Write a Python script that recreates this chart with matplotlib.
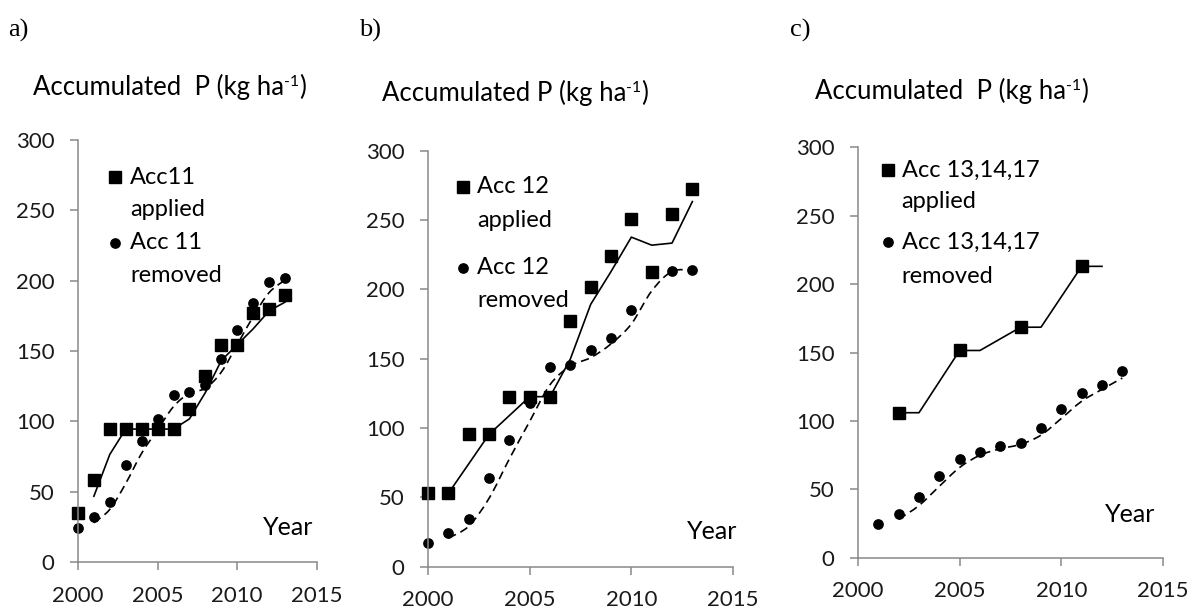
import matplotlib
matplotlib.use("Agg")
import matplotlib.pyplot as plt
from matplotlib.path import Path
from matplotlib.patches import PathPatch

plt.rcParams['font.family'] = ['Lato', 'DejaVu Sans']

# a) Acc 11
years_a = [2000, 2001, 2002, 2003, 2004, 2005, 2006, 2007, 2008, 2009, 2010, 2011, 2012, 2013]
applied_a = [35, 58.5, 94.5, 94.5, 94.5, 94.5, 94.5, 109, 132, 154.5, 154.5, 177, 180, 189.5]
removed_a = [24, 31.8, 43, 68.7, 86, 102, 119, 121, 126, 144, 165, 184, 199, 202]

# b) Acc 12
years_b = [2000, 2001, 2002, 2003, 2004, 2005, 2006, 2007, 2008, 2009, 2010, 2011, 2012, 2013]
applied_b = [52.9, 52.9, 95.4, 95.4, 122.6, 122.6, 122.6, 177, 201.4, 224.3, 251, 212.7, 254, 272.6]
removed_b = [17.3, 24, 34.4, 64.2, 91.3, 118.3, 144.2, 145.2, 156.3, 165.1, 185, 212.7, 213.2, 214]

# c) Acc 13,14,17
years_c_applied = [2002, 2005, 2008, 2011]
applied_c = [106, 151.5, 168.5, 213]
trend_years_c = [2002, 2003, 2005, 2006, 2008, 2009, 2011, 2012]
trend_applied_c = [106, 106, 151.5, 151.5, 168.5, 168.5, 213, 213]
years_c = [2001, 2002, 2003, 2004, 2005, 2006, 2007, 2008, 2009, 2010, 2011, 2012, 2013]
removed_c = [24.6, 31.7, 44.6, 59.8, 72.2, 77.6, 81.7, 84.1, 95.1, 108.5, 120.2, 125.9, 136.8]

GRAY = '#898989'
W, H = 1190, 610


def moving_avg(x, y):
    # 2-period moving average, like the spreadsheet trendline
    return x[1:], [(y[i - 1] + y[i]) / 2 for i in range(1, len(y))]


def smooth_line(ax, x, y, **kw):
    # smoothed curve through the points (bezier segments)
    n = len(x)
    verts = [(x[0], y[0])]
    codes = [Path.MOVETO]
    for i in range(n - 1):
        p0 = i - 1 if i > 0 else i
        p3 = i + 2 if i + 2 < n else i + 1
        c1 = (x[i] + (x[i + 1] - x[p0]) / 6, y[i] + (y[i + 1] - y[p0]) / 6)
        c2 = (x[i + 1] - (x[p3] - x[i]) / 6, y[i + 1] - (y[p3] - y[i]) / 6)
        verts += [c1, c2, (x[i + 1], y[i + 1])]
        codes += [Path.CURVE4] * 3
    ax.add_patch(PathPatch(Path(verts, codes), fill=False, **kw))


def style_axes(ax):
    ax.set_xlim(2000, 2015)
    ax.set_ylim(0, 300)
    ax.set_xticks([2000, 2005, 2010, 2015])
    ax.set_yticks(range(0, 301, 50))
    for s in ['top', 'right']:
        ax.spines[s].set_visible(False)
    for s in ['left', 'bottom']:
        ax.spines[s].set_color(GRAY)
        ax.spines[s].set_linewidth(1.1)
    ax.tick_params(direction='out', length=6, width=1.1, color=GRAY,
                   labelsize=16, labelcolor='#1a1a1a', pad=11)


def legend_entry(ax, mx, tx, y1, y2, marker, ms, l1, l2):
    ax.plot([mx], [y1], marker=marker, ms=ms, color='black', ls='none',
            transform=ax.transAxes, clip_on=False)
    ax.text(tx, y1, l1, transform=ax.transAxes, fontsize=17, va='center', ha='left')
    ax.text(tx, y2, l2, transform=ax.transAxes, fontsize=17, va='center', ha='left')


fig = plt.figure(figsize=(11.9, 6.1), dpi=100)
ax_a = fig.add_axes([0.0655, 0.0787, 0.2008, 0.6918])
ax_b = fig.add_axes([0.3597, 0.0710, 0.2563, 0.6820])
ax_c = fig.add_axes([0.7210, 0.0857, 0.2563, 0.6728])

SQ = 8.4
CI = 6.7
LW = 1.2
DASH = (0, (5, 3))

# panel a
ax_a.plot(years_a, applied_a, 's', color='black', ms=SQ, clip_on=False)
ax_a.plot(years_a, removed_a, 'o', color='black', ms=CI, clip_on=False)
ax_a.plot(*moving_avg(years_a, applied_a), '-', color='black', lw=LW)
smooth_line(ax_a, *moving_avg(years_a, removed_a), ls=DASH, lw=LW, color='black')
style_axes(ax_a)
legend_entry(ax_a, 0.155, 0.218, 0.912, 0.836, 's', SQ, 'Acc11', 'applied')
legend_entry(ax_a, 0.155, 0.218, 0.756, 0.678, 'o', CI, 'Acc 11', 'removed')
ax_a.text(0.983, 0.081, 'Year', transform=ax_a.transAxes, fontsize=18, ha='right', va='center')

# panel b
ax_b.plot(years_b, applied_b, 's', color='black', ms=SQ, clip_on=False)
ax_b.plot(years_b, removed_b, 'o', color='black', ms=CI, clip_on=False)
ax_b.plot(*moving_avg(years_b, applied_b), '-', color='black', lw=LW)
smooth_line(ax_b, *moving_avg(years_b, removed_b), ls=DASH, lw=LW, color='black')
style_axes(ax_b)
legend_entry(ax_b, 0.115, 0.161, 0.913, 0.833, 's', SQ, 'Acc 12', 'applied')
legend_entry(ax_b, 0.115, 0.161, 0.718, 0.641, 'o', CI, 'Acc 12', 'removed')
ax_b.text(1.013, 0.084, 'Year', transform=ax_b.transAxes, fontsize=18, ha='right', va='center')

# panel c
ax_c.plot(years_c_applied, applied_c, 's', color='black', ms=SQ, clip_on=False)
ax_c.plot(years_c, removed_c, 'o', color='black', ms=CI, clip_on=False)
ax_c.plot(trend_years_c, trend_applied_c, '-', color='black', lw=LW)
smooth_line(ax_c, *moving_avg(years_c, removed_c), ls=DASH, lw=LW, color='black')
style_axes(ax_c)
legend_entry(ax_c, 0.098, 0.143, 0.945, 0.867, 's', SQ, 'Acc 13,14,17', 'applied')
legend_entry(ax_c, 0.098, 0.143, 0.769, 0.686, 'o', CI, 'Acc 13,14,17', 'removed')
ax_c.text(0.974, 0.105, 'Year', transform=ax_c.transAxes, fontsize=18, ha='right', va='center')

# panel letters
for x, lab in [(8, 'a)'), (359, 'b)'), (790, 'c)')]:
    fig.text(x / W, 1 - 37 / H, lab, fontsize=19, family='Liberation Serif', va='baseline', ha='left')

# titles with a small raised "-1"
renderer = fig.canvas.get_renderer()


def title(x, y, base, size=18.5):
    t1 = fig.text(x / W, 1 - y / H, base, fontsize=size, va='baseline', ha='left')
    x1 = t1.get_window_extent(renderer).x1
    sup_y = y - size * 100 / 72 * 0.36
    t2 = fig.text(x1 / W, 1 - sup_y / H, '-1', fontsize=size * 0.62, va='baseline', ha='left')
    x2 = t2.get_window_extent(renderer).x1
    fig.text(x2 / W, 1 - y / H, ')', fontsize=size, va='baseline', ha='left')


title(33, 95, 'Accumulated  P (kg ha')
title(382, 101, 'Accumulated P (kg ha')
title(815, 99, 'Accumulated  P (kg ha')

fig.savefig('out.png', dpi=100)
